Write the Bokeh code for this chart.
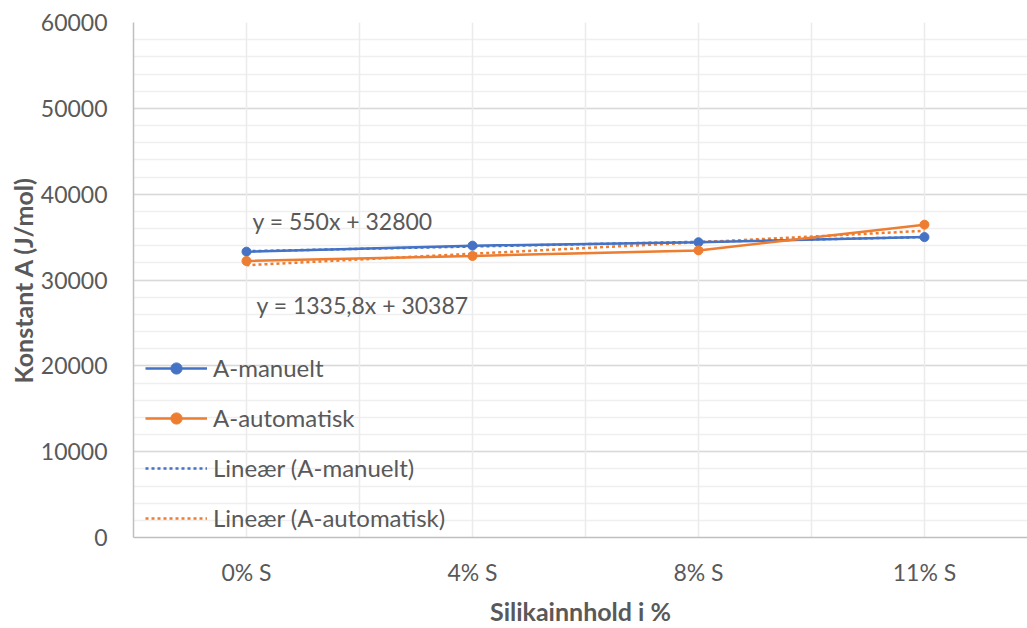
from bokeh.plotting import figure
from bokeh.models import (Range1d, FixedTicker, Grid, Legend, LegendItem, Label,
                          ColumnDataSource)
from bokeh.embed import file_html
from bokeh.resources import INLINE

# ---- data ----
categories = ["0% S", "4% S", "8% S", "11% S"]
a_manuelt = [33300, 34000, 34400, 35000]
a_automatisk = [32210, 32800, 33450, 36446]
trend_manuelt = (550.0, 32800.0)       # slope, intercept
trend_automatisk = (1335.8, 30387.0)
eq_manuelt = "y = 550x + 32800"
eq_automatisk = "y = 1335,8x + 30387"
y_ticks = [0, 10000, 20000, 30000, 40000, 50000, 60000]
series_names = ["A-manuelt", "A-automatisk", "Lineær (A-manuelt)", "Lineær (A-automatisk)"]
x_title = "Silikainnhold i %"
y_title = "Konstant A (J/mol)"

BLUE = "#4472C4"
ORANGE = "#ED7D31"
TXT = "#595959"
FONT = "Lato"

xs = list(range(1, len(categories) + 1))

p = figure(width=1027, height=628, output_backend="svg", toolbar_location=None,
           x_range=Range1d(0.5, 4.456), y_range=Range1d(0, 60000),
           min_border_left=133, min_border_right=0, min_border_top=22,
           min_border_bottom=88)
p.outline_line_color = None
p.background_fill_color = "white"

# axes
p.xaxis.ticker = FixedTicker(ticks=xs)
p.xaxis.major_label_overrides = {x: c for x, c in zip(xs, categories)}
p.yaxis.ticker = FixedTicker(ticks=y_ticks, minor_ticks=list(range(0, 60001, 2000)))
for ax in (p.xaxis[0], p.yaxis[0]):
    ax.major_tick_line_color = None
    ax.minor_tick_line_color = None
    ax.axis_line_color = "#bfbfbf"
    ax.axis_line_width = 1.5
    ax.major_label_text_font = FONT
    ax.major_label_text_font_size = "23px"
    ax.major_label_text_color = TXT
    ax.axis_label_text_font = FONT
    ax.axis_label_text_font_size = "25px"
    ax.axis_label_text_font_style = "bold"
    ax.axis_label_text_color = TXT
p.xaxis.axis_label = x_title
p.yaxis.axis_label = y_title
p.xaxis.major_label_standoff = 14
p.xaxis.axis_label_standoff = 7
p.yaxis.major_label_standoff = 20
p.yaxis.axis_label_standoff = 0

# grids
p.xgrid.visible = False
p.ygrid.grid_line_color = "#d9d9d9"
p.ygrid.grid_line_width = 1.5
p.ygrid.minor_grid_line_color = "#efefef"
p.ygrid.minor_grid_line_width = 1.5
vgrid = Grid(dimension=0, ticker=FixedTicker(ticks=[1, 1.5, 2, 2.5, 3, 3.5, 4, 4.5]),
             grid_line_color="#ebebeb", grid_line_width=1.5)
p.add_layout(vgrid)

# trendlines
tx = [xs[0], xs[-1]]
tm = [trend_manuelt[0] * x + trend_manuelt[1] for x in tx]
ta = [trend_automatisk[0] * x + trend_automatisk[1] for x in tx]
r_tm = p.line(tx, tm, line_color=BLUE, line_width=2.5, line_dash="3 3")
r_ta = p.line(tx, ta, line_color=ORANGE, line_width=2.5, line_dash="3 3")

# series
src = ColumnDataSource(dict(x=xs, m=a_manuelt, a=a_automatisk))
r_ml = p.line("x", "m", source=src, line_color=BLUE, line_width=2.5)
r_mp = p.scatter("x", "m", source=src, size=9, fill_color=BLUE, line_color=BLUE)
r_al = p.line("x", "a", source=src, line_color=ORANGE, line_width=2.5)
r_ap = p.scatter("x", "a", source=src, size=9, fill_color=ORANGE, line_color=ORANGE)

# equation labels
p.add_layout(Label(x=1, y=36850, x_offset=6, text=eq_manuelt, text_baseline="middle",
                   text_font=FONT, text_font_size="23px", text_color=TXT))
p.add_layout(Label(x=1, y=27100, x_offset=10, text=eq_automatisk, text_baseline="middle",
                   text_font=FONT, text_font_size="23px", text_color=TXT))

legend = Legend(items=[
    LegendItem(label=series_names[0], renderers=[r_ml, r_mp]),
    LegendItem(label=series_names[1], renderers=[r_al, r_ap]),
    LegendItem(label=series_names[2], renderers=[r_tm]),
    LegendItem(label=series_names[3], renderers=[r_ta]),
], location=(12, 5))
legend.background_fill_alpha = 0
legend.border_line_color = None
legend.label_text_font = FONT
legend.label_text_font_size = "24px"
legend.label_text_color = TXT
legend.glyph_width = 62
legend.glyph_height = 28
legend.label_height = 28
legend.spacing = 21
legend.padding = 8
legend.margin = 0
legend.label_standoff = 6
p.add_layout(legend, "center")

open("out.html", "w").write(file_html(p, INLINE))
